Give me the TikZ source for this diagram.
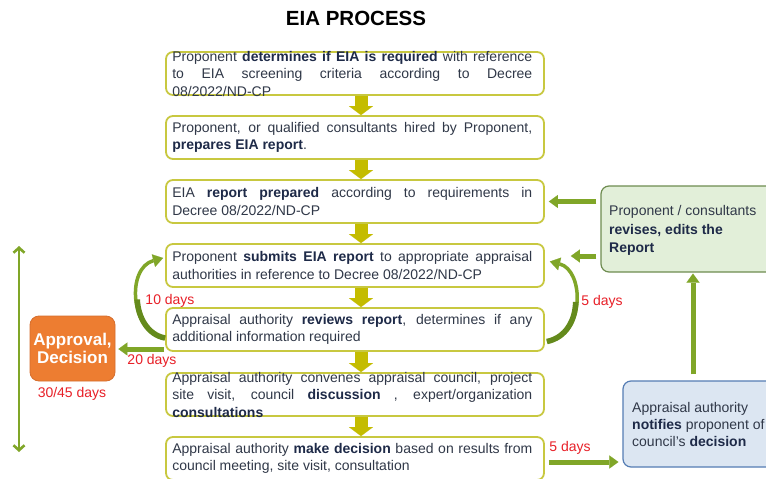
\documentclass[tikz,border=0pt]{standalone}
\usepackage{fontspec}
\setmainfont{Liberation Sans}
\usetikzlibrary{arrows.meta,calc}
\definecolor{boxline}{RGB}{200,200,64}
\definecolor{yarrow}{RGB}{196,188,0}
\definecolor{garrow}{RGB}{128,166,40}
\definecolor{gdark}{RGB}{100,138,28}
\definecolor{txt}{RGB}{48,56,72}
\definecolor{txtb}{RGB}{30,42,72}
\definecolor{redlbl}{RGB}{232,32,40}
\definecolor{gfill}{RGB}{226,239,217}
\definecolor{gline}{RGB}{110,140,80}
\definecolor{bfill}{RGB}{220,230,242}
\definecolor{bline}{RGB}{85,125,180}
\definecolor{ofill}{RGB}{237,125,49}
\definecolor{oline}{RGB}{214,110,45}
\newcommand\hb[1]{\textbf{\textcolor{txtb}{#1}}}
\begin{document}
\begin{tikzpicture}[x=1pt,y=-1pt,
  stepbox/.style={draw=boxline,line width=1.8pt,rounded corners=7pt,minimum width=378pt,minimum height=43pt,inner sep=0pt},
  steptext/.style={anchor=west,text width=360pt,align=justify,inner sep=0pt,font=\fontsize{14}{17.5}\selectfont,text=txt},
  sidetext/.style={anchor=west,align=left,inner sep=0pt,text=txt},
  yarr/.style={draw=yarrow,line width=13pt,-{Triangle[length=9pt,width=24pt,line width=0.1pt]}},
  garr/.style={draw=garrow,line width=5pt,-{Triangle[length=9pt,width=13pt,line width=0.1pt]}},
  carr/.style={draw=garrow,line width=3.5pt,-{Triangle[length=10pt,width=13pt,line width=0.1pt]}},
  cthick/.style={draw=gdark,line width=5.5pt},
  redtext/.style={text=redlbl,inner sep=0pt,font=\fontsize{14}{16}\selectfont},
]
\useasboundingbox (0,0) rectangle (766,479);
\clip (0,0) rectangle (766,479);
\fill[white] (0,0) rectangle (766,479);

% title
\node[font=\fontsize{20.5}{24}\selectfont\bfseries,inner sep=0pt] (title) at (356,18) {EIA PROCESS};

% step boxes
\node[stepbox] (b1) at (355,73.5) {};
\node[stepbox] (b2) at (355,137.5) {};
\node[stepbox] (b3) at (355,201.5) {};
\node[stepbox] (b4) at (355,265.5) {};
\node[stepbox] (b5) at (355,329.5) {};
\node[stepbox] (b6) at (355,394.5) {};
\node[stepbox] (b7) at (355,458.5) {};

\node[steptext] (t1) at ([xshift=7pt]b1.west) {Proponent \hb{determines if EIA is required} with reference\linebreak to EIA screening criteria according to Decree\linebreak 08/2022/ND-CP};
\node[steptext] (t2) at ([xshift=7pt]b2.west) {Proponent, or qualified consultants hired by Proponent,\linebreak \hb{prepares EIA report}.};
\node[steptext] (t3) at ([xshift=7pt]b3.west) {EIA \hb{report prepared} according to requirements in\linebreak Decree 08/2022/ND-CP};
\node[steptext] (t4) at ([xshift=7pt]b4.west) {Proponent \hb{submits EIA report} to appropriate appraisal\linebreak authorities in reference to Decree 08/2022/ND-CP};
\node[steptext] (t5) at ([xshift=7pt]b5.west) {Appraisal authority \hb{reviews report}, determines if any\linebreak additional information required};
\node[steptext] (t6) at ([xshift=7pt]b6.west) {Appraisal authority convenes appraisal council, project\linebreak site visit, council \hb{discussion} , expert/organization\linebreak \hb{consultations}};
\node[steptext] (t7) at ([xshift=7pt]b7.west) {Appraisal authority \hb{make decision} based on results from\linebreak council meeting, site visit, consultation};

% side boxes
\node[draw=gline,fill=gfill,line width=1.2pt,rounded corners=8pt,minimum width=199pt,minimum height=86pt,inner sep=0pt] (g) at (700.5,229) {};
\node[sidetext,font=\fontsize{14}{18.5}\selectfont] (tg) at (609,230.5) {Proponent / consultants\\\hb{revises, edits the}\\\hb{Report}};
\node[draw=bline,fill=bfill,line width=1.2pt,rounded corners=8pt,minimum width=197pt,minimum height=86pt,inner sep=0pt] (bl) at (721.5,424) {};
\node[sidetext,font=\fontsize{14}{17}\selectfont] (tb) at (632,424) {Appraisal authority\\\hb{notifies} proponent of\\council's \hb{decision}};
\node[draw=oline,fill=ofill,line width=0.8pt,rounded corners=9pt,minimum width=85pt,minimum height=65pt,inner sep=0pt,
      text=white,font=\fontsize{17}{18}\selectfont\bfseries,align=center] (o) at (72.5,348.5) {Approval,\\Decision};

% yellow down arrows
\foreach \a/\b in {b1/b2,b2/b3,b3/b4,b4/b5,b5/b6,b6/b7}
  \draw[yarr] ([xshift=6pt]\a.south) -- ([xshift=6pt]\b.north);

% green arrows
\coordinate (g3) at ($(g.west |- b3.east)+(-4,0)$);
\coordinate (e3) at ($(b3.east)+(4,0)$);
\draw[garr] (g3) -- (e3);
\coordinate (g4) at ($(g.west)+(-4,27)$);
\coordinate (e4) at ($(b4.east)+(26,-9.5)$);
\draw[garr] (g4) -- (e4);
\coordinate (bt) at ($(bl.north)+(-28.5,-6)$);
\coordinate (gb) at ($(g.south)+(-7.5,1)$);
\draw[garr] (bt) -- (gb);
\coordinate (s7) at ($(b7.east)+(4,3.5)$);
\coordinate (e7) at ($(bl.west)+(-4,38)$);
\draw[garr] (s7) -- (e7);
\coordinate (s5) at ($(b5.west)+(-1,19.5)$);
\coordinate (e5) at ($(o.east)+(3,0.5)$);
\draw[garr] (s5) -- (e5);

% curved arrows (tapered: thick dark lower half over thin full curve)
\coordinate (cl1) at ($(b5.west)+(0,8.5)$);
\coordinate (cl2) at ($(b4.west)+(-2,-7.5)$);
\draw[carr] (cl1) .. controls (130,332) and (126,268) .. (cl2);
\draw[cthick] (cl1) .. controls (148,335) and (138,317.5) .. (137.25,299.5);
\coordinate (cr1) at ($(b5.east)+(2,12)$);
\coordinate (cr2) at ($(b4.east)+(5,-4)$);
\draw[carr] (cr1) .. controls (586,334) and (584,270) .. (cr2);
\draw[cthick] (cr1) .. controls (566,337.75) and (575.5,319.875) .. (575.625,301.875);

% vertical double arrow
\coordinate (v1) at (19,246);
\coordinate (v2) at (19,452);
\draw[draw=garrow,line width=2.6pt,{Straight Barb[length=5pt,width=11pt]}-{Straight Barb[length=5pt,width=11pt]}] (v1) -- (v2);

% labels
\node[redtext] (l10) at (170,301) {10 days};
\node[redtext] (l20) at (152,361) {20 days};
\node[redtext] (l5a) at (602,302) {5 days};
\node[redtext] (l5b) at (570,448) {5 days};
\node[redtext] (l3045) at (72,394) {30/45 days};
\end{tikzpicture}
\end{document}
